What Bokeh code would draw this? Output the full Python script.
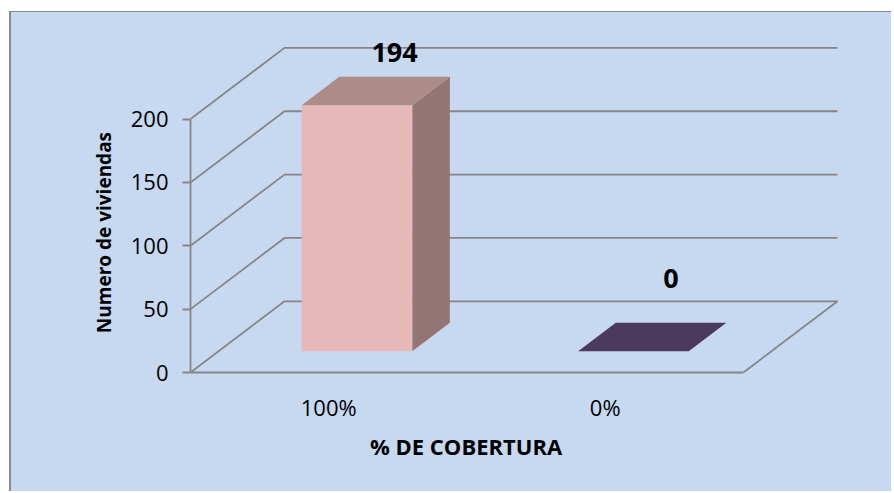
import math
from bokeh.plotting import figure
from bokeh.models import Range1d, FixedTicker, Title
from bokeh.core.properties import value
from bokeh.embed import file_html
from bokeh.resources import INLINE

# ---------------- data ----------------
categories = ["100%", "0%"]
viviendas = [194, 0]
data_labels = ["194", "0"]
y_ticks = [0, 50, 100, 150, 200]
x_title = "% DE COBERTURA"
y_title = "Numero de viviendas"

# ---------------- style ----------------
BG = "#C6D9F1"
GRID = "#868686"
FONT = "Open Sans"
front_colors = ["#E6B8B7", "#5F497A"]
top_colors = ["#AD8B87", "#4A3A5E"]
side_colors = ["#937574", "#3F3150"]
label_lift = [-15, -35]          # pixel lift of each value label

DEPTH_X = 0.34    # depth offset in category units
DEPTH_Y = 56.2    # depth offset in value units
BAR_W = 0.4
BAR_D0, BAR_D1 = 0.3, 0.7
PX_PER_CAT = 276.5
PX_PER_VAL = 1.267

W, H = 882, 480
LEFT, BOTTOM = 179, 120
frame_w = W - LEFT
frame_h = H - BOTTOM
n = len(categories)
y_max = max(y_ticks)

p = figure(width=W, height=H, output_backend="svg", toolbar_location=None,
           x_range=Range1d(0, frame_w / PX_PER_CAT),
           y_range=Range1d(0, frame_h / PX_PER_VAL),
           min_border_left=LEFT, min_border_right=0,
           min_border_top=0, min_border_bottom=BOTTOM)
p.background_fill_color = None
p.border_fill_color = None
p.outline_line_color = None
p.grid.visible = False
p.styles = {"margin-left": "9px", "margin-top": "11px",
            "border-left": "2px solid #8a8a8a", "border-top": "1px solid #8a8a8a",
            "background-color": BG}


def proj(x, y, d):
    return x + d * DEPTH_X, y + d * DEPTH_Y


# walls: gridlines on left wall + back wall
gx, gy = [], []
for t in y_ticks:
    a = proj(0, t, 0)
    b = proj(0, t, 1)
    c = proj(n, t, 1)
    gx.append([a[0], b[0], c[0]])
    gy.append([a[1], b[1], c[1]])
# floor right edge
a = proj(n, 0, 0)
b = proj(n, 0, 1)
gx.append([a[0], b[0]])
gy.append([a[1], b[1]])
p.multi_line(gx, gy, line_color=GRID, line_width=1.8)

# bars
for i, v in enumerate(viviendas):
    x0 = i + 0.5 - BAR_W / 2
    x1 = x0 + BAR_W
    faces = [
        ([proj(x1, 0, BAR_D0), proj(x1, 0, BAR_D1), proj(x1, v, BAR_D1), proj(x1, v, BAR_D0)], side_colors[i]),
        ([proj(x0, 0, BAR_D0), proj(x1, 0, BAR_D0), proj(x1, v, BAR_D0), proj(x0, v, BAR_D0)], front_colors[i]),
        ([proj(x0, v, BAR_D0), proj(x1, v, BAR_D0), proj(x1, v, BAR_D1), proj(x0, v, BAR_D1)], top_colors[i]),
    ]
    for pts, col in faces:
        p.patch([q[0] for q in pts], [q[1] for q in pts], fill_color=col, line_color=None)

# value labels
lx = [i + 0.5 + BAR_D1 * DEPTH_X for i in range(n)]
ly = [v + BAR_D1 * DEPTH_Y for v in viviendas]
p.text(x=lx, y=ly, text=data_labels, text_align="center", text_baseline="bottom",
       y_offset=label_lift, text_font=value(FONT), text_font_style="bold",
       text_font_size="27px", text_color="black")

# y axis
ya = p.yaxis[0]
ya.ticker = FixedTicker(ticks=y_ticks)
ya.bounds = (0, y_max)
ya.axis_line_color = GRID
ya.axis_line_width = 1.8
ya.major_tick_line_color = GRID
ya.major_tick_line_width = 1.8
ya.major_tick_out = 8
ya.major_tick_in = 0
ya.minor_tick_line_color = None
ya.major_label_text_font = FONT
ya.major_label_text_font_size = "22px"
ya.major_label_text_color = "black"
ya.major_label_standoff = 14

# x axis
xa = p.xaxis[0]
centers = [i + 0.5 for i in range(n)]
xa.ticker = FixedTicker(ticks=centers)
xa.major_label_overrides = {c: lab for c, lab in zip(centers, categories)}
xa.bounds = (0, n)
xa.axis_line_color = GRID
xa.axis_line_width = 1.8
xa.major_tick_line_color = None
xa.major_tick_out = 0
xa.major_tick_in = 0
xa.minor_tick_line_color = None
xa.major_label_text_font = FONT
xa.major_label_text_font_size = "22px"
xa.major_label_text_color = "black"
xa.major_label_standoff = 19

# axis titles as side titles, left-aligned with a pixel offset so that they
# sit centred over the data extent (approximate rendered text lengths)
x_title_len = 194
y_title_len = 200
data_mid_x = n * PX_PER_CAT / 2
data_mid_y = 0.55 * y_max * PX_PER_VAL
p.add_layout(Title(text=x_title, align="left", offset=data_mid_x - x_title_len / 2,
                   standoff=8, text_font=FONT, text_font_style="bold",
                   text_font_size="22px", text_color="black"), "below")
p.add_layout(Title(text=y_title, align="left", offset=data_mid_y - y_title_len / 2,
                   standoff=21, text_font=FONT, text_font_style="bold",
                   text_font_size="19px", text_color="black"), "left")

open("out.html", "w").write(file_html(p, INLINE))
